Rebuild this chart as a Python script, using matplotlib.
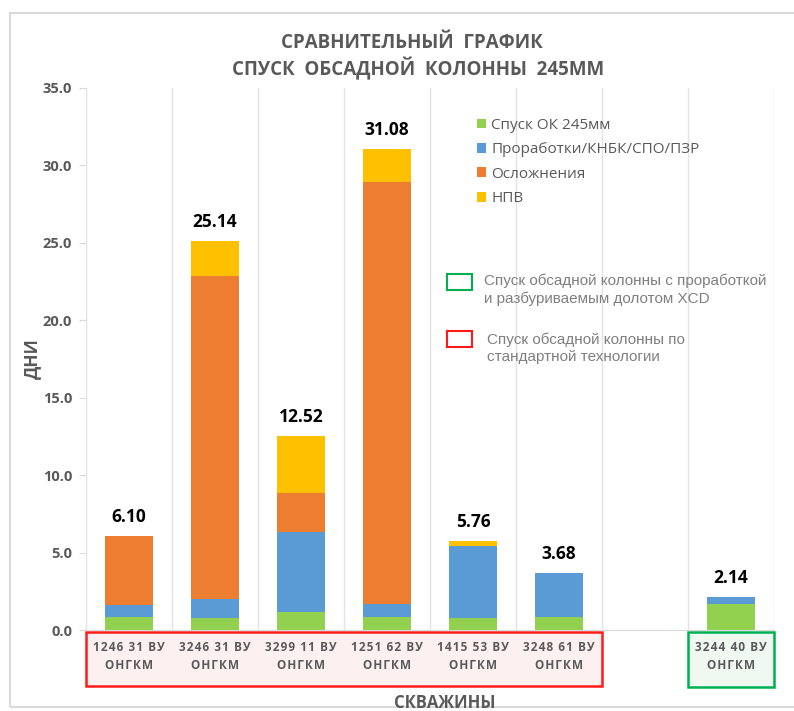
import numpy as np
import matplotlib
matplotlib.use("Agg")
import matplotlib.pyplot as plt
from matplotlib.patches import Rectangle

plt.rcParams['font.family'] = ['Open Sans', 'DejaVu Sans']

wells = ["1246 31 ВУ\nОНГКМ", "3246 31 ВУ\nОНГКМ", "3299 11 ВУ\nОНГКМ",
         "1251 62 ВУ\nОНГКМ", "1415 53 ВУ\nОНГКМ", "3248 61 ВУ\nОНГКМ",
         "", "3244 40 ВУ\nОНГКМ"]
spusk = [0.86, 0.77, 1.18, 0.86, 0.80, 0.84, 0, 1.70]
prorab = [0.75, 1.21, 5.17, 0.82, 4.62, 2.84, 0, 0.44]
oslozh = [4.46, 20.87, 2.52, 27.24, 0.00, 0.00, 0, 0.00]
npv = [0.03, 2.29, 3.65, 2.16, 0.34, 0.00, 0, 0.00]
totals = [6.10, 25.14, 12.52, 31.08, 5.76, 3.68, None, 2.14]
series_names = ["Спуск ОК 245мм", "Проработки/КНБК/СПО/ПЗР", "Осложнения", "НПВ"]
colors = ["#92d050", "#5b9bd5", "#ed7d31", "#ffc000"]


def spaced(s):
    # imitate the letter spacing of the original labels
    return "\n".join("\u200a".join(line) for line in s.split("\n"))


W, H = 794, 711
fig = plt.figure(figsize=(W / 100, H / 100), dpi=100)
ax = fig.add_axes([86 / W, 1 - 630 / H, 688 / W, 542 / H])

x = np.arange(len(wells))
bottom = np.zeros(len(wells))
for vals, name, c in zip([spusk, prorab, oslozh, npv], series_names, colors):
    ax.bar(x, vals, 0.56, bottom=bottom, color=c, label=name, zorder=2)
    bottom += np.array(vals)

for xi, t in zip(x, totals):
    if t is None:
        continue
    ax.annotate(f"{t:.2f}", (xi, t), xytext=(0, 7), textcoords="offset points",
                ha="center", va="bottom", fontsize=12.5, fontweight="bold", color="black")

ax.set_xlim(-0.5, len(wells) - 0.5)
ax.set_ylim(0, 35)
ax.set_yticks(np.arange(0, 35.1, 5))
ax.set_yticklabels([f"{v:.1f}" for v in np.arange(0, 35.1, 5)])
ax.tick_params(axis="y", length=5, color="#d9d9d9", pad=5, labelsize=10.5, labelcolor="#595959")
for lb in ax.get_yticklabels():
    lb.set_fontweight("bold")

ax.set_xticks(x)
ax.set_xticklabels([spaced(w) for w in wells], fontsize=8.5, fontweight="bold",
                   color="#595959", linespacing=1.45)
ax.tick_params(axis="x", length=0, pad=8)
ax.set_xticks(np.arange(-0.5, len(wells)), minor=True)
ax.tick_params(axis="x", which="minor", length=0)
ax.grid(axis="x", which="minor", color="#e3e3e3", lw=1, zorder=0)

for s in ["top", "right"]:
    ax.spines[s].set_visible(False)
ax.spines["left"].set_color("#e3e3e3")
ax.spines["bottom"].set_color("#d9d9d9")

ax.set_ylabel("ДНИ", fontsize=12.5, fontweight="bold", color="#595959", labelpad=1)
fig.text(445 / W, 1 - 703 / H, "СКВАЖИНЫ", ha="center", va="center",
         fontsize=12, fontweight="bold", color="#595959")

# category group boxes
trans = ax.get_xaxis_transform()
ax.add_patch(Rectangle((-0.5, -0.103), 6.0, 0.099, transform=trans, clip_on=False,
                       facecolor="#fdf0f0", edgecolor="#ff1a1a", lw=1.8, zorder=0))
ax.add_patch(Rectangle((6.5, -0.106), 1.0, 0.102, transform=trans, clip_on=False,
                       facecolor="#eff8f1", edgecolor="#00b050", lw=1.8, zorder=0))

# title
fig.text(412 / W, 1 - 43 / H, "СРАВНИТЕЛЬНЫЙ  ГРАФИК", ha="center", va="center",
         fontsize=13.5, fontweight="bold", color="#595959")
fig.text(418 / W, 1 - 69 / H, "СПУСК  ОБСАДНОЙ  КОЛОННЫ  245ММ", ha="center", va="center",
         fontsize=13.5, fontweight="bold", color="#595959")

leg = ax.legend(loc="upper left", bbox_to_anchor=(463 / W, 1 - 104 / H),
                bbox_transform=fig.transFigure, frameon=False, fontsize=11,
                handlelength=0.6, handleheight=0.6, handletextpad=0.35, labelspacing=0.62)
for t in leg.get_texts():
    t.set_color("#595959")

# explanation boxes
fig.patches.append(Rectangle((447 / W, 1 - 290 / H), 25 / W, 16 / H, transform=fig.transFigure,
                             facecolor="none", edgecolor="#00b050", lw=1.5))
fig.text(484 / W, 1 - 290 / H, "Спуск обсадной колонны с проработкой\nи разбуриваемым долотом XCD",
         ha="left", va="center", fontsize=11, color="#7f7f7f", family="Liberation Sans",
         linespacing=1.28)
fig.patches.append(Rectangle((447 / W, 1 - 347 / H), 25 / W, 16 / H, transform=fig.transFigure,
                             facecolor="none", edgecolor="#ff1a1a", lw=1.5))
fig.text(487 / W, 1 - 348 / H, "Спуск обсадной колонны по\nстандартной технологии",
         ha="left", va="center", fontsize=11, color="#7f7f7f", family="Liberation Sans",
         linespacing=1.28)

# outer frame
fig.patches.append(Rectangle((10 / W, 1 - 707 / H), 800 / W, 694 / H, transform=fig.transFigure,
                             facecolor="none", edgecolor="#d9d9d9", lw=1.5))

fig.savefig("out.png", dpi=100)
